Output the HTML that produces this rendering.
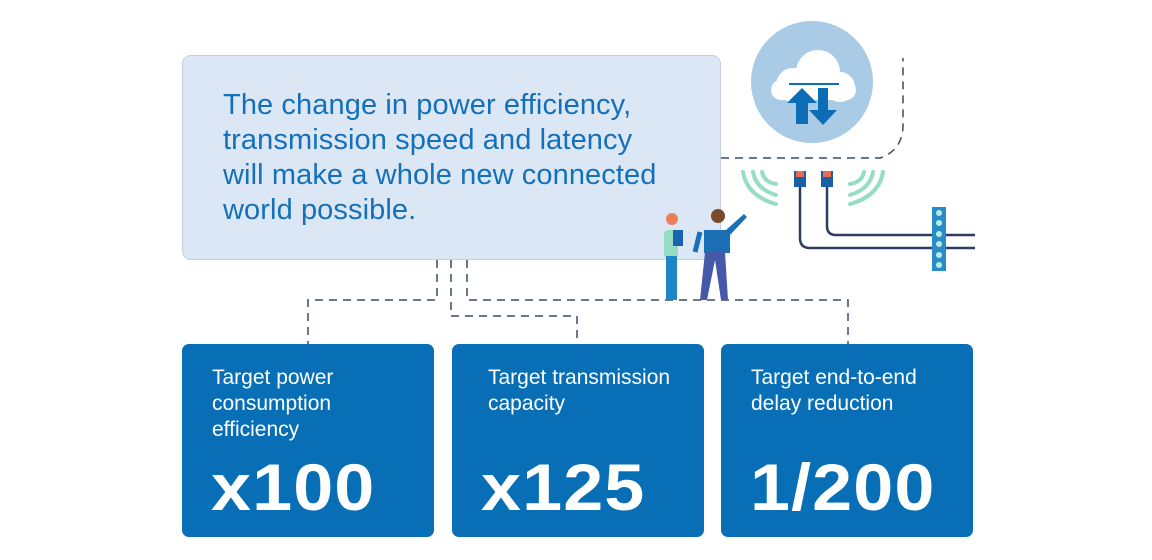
<!DOCTYPE html>
<html><head><style>
body{margin:0;width:1152px;height:560px;background:#fff;position:relative;overflow:hidden;font-family:"Liberation Sans",sans-serif}
.top{position:absolute;left:182px;top:55px;width:537px;height:203px;background:#dce7f6;border:1px solid #c4cfdd;border-radius:9px}
.top p{margin:0;position:absolute;left:40px;top:32px;font-size:29px;line-height:35px;color:#1570b8;white-space:nowrap;letter-spacing:0.1px}
.b{position:absolute;top:344px;width:252px;height:193px;background:#086fb7;border-radius:7px;color:#fff}
.b .l{position:absolute;left:30px;top:21px;font-size:21px;line-height:26px}
.b .n{position:absolute;left:29px;top:105px;font-size:66px;font-weight:bold;letter-spacing:1px;transform:scaleX(1.09);transform-origin:left top;white-space:nowrap}
svg{position:absolute;left:0;top:0}
</style></head><body>
<div class="top"><p>The change in power efficiency,<br>transmission speed and latency<br>will make a whole new connected<br>world possible.</p></div>
<svg width="1152" height="560">
<g fill="none" stroke="#3b4a66" stroke-width="1.5" stroke-dasharray="8,6">
<path d="M437 260V300H308V344"/>
<path d="M451 260V316H577V344"/>
<path d="M467 260V300H848V344"/>
<path d="M721 158H880Q903 150 903 125V58"/>
</g>
<circle cx="812" cy="82" r="61" fill="#a9cbe5"/>
<g fill="#fff"><circle cx="793" cy="85" r="17"/><circle cx="818" cy="72" r="22"/><circle cx="840" cy="87" r="15"/><rect x="771" y="80" width="85" height="20" rx="10"/></g>
<path d="M789 84h50" stroke="#0b6db5" stroke-width="2"/>
<path d="M802 88l-15 15h9v21h12v-21h9z" fill="#0b6db5"/>
<path d="M818 88v22h-9l14 15 14-15h-9v-22z" fill="#0b6db5"/>
<g fill="none" stroke="#97ddc3" stroke-width="4" stroke-linecap="round">
<path d="M743 172q4 24 33 32"/><path d="M753 172q3 17 23 23"/><path d="M762 172q2 10 14 12"/>
<path d="M883 172q-4 24 -33 32"/><path d="M873 172q-3 17 -23 23"/><path d="M864 172q-2 10 -14 12"/>
</g>
<g fill="none" stroke="#2e3c60" stroke-width="2.5">
<path d="M800 185V238q0 10 10 10H975"/><path d="M827 185V226q0 9 9 9H975"/>
</g>
<rect x="794" y="171" width="12" height="16" fill="#1a5fa5"/><rect x="796" y="171" width="8" height="6" fill="#e86d50"/>
<rect x="821" y="171" width="12" height="16" fill="#1a5fa5"/><rect x="823" y="171" width="8" height="6" fill="#e86d50"/>
<rect x="932" y="207" width="14" height="64" fill="#2a8bc9"/>
<g fill="#b6ecd8"><circle cx="939" cy="213" r="3"/><circle cx="939" cy="223" r="3"/><circle cx="939" cy="234" r="3"/><circle cx="939" cy="244" r="3"/><circle cx="939" cy="255" r="3"/><circle cx="939" cy="265" r="3"/></g>
<circle cx="672" cy="219" r="6" fill="#e9805b"/>
<rect x="664" y="230" width="14" height="28" rx="4" fill="#95dec4"/>
<rect x="666" y="256" width="11" height="44" fill="#1d86c6"/>
<rect x="673" y="230" width="10" height="16" fill="#1a63ad"/>
<circle cx="718" cy="216" r="7" fill="#7b4a2a"/>
<path d="M704 230h22l18-16 3 3-17 18v18h-26z" fill="#1a6fb5"/>
<path d="M700 232l-5 20" stroke="#1a6fb5" stroke-width="5"/>
<path d="M705 252h20l3 48h-7l-6-40-8 40h-7z" fill="#4658a8"/>
</svg>
<div class="b" style="left:182px"><div class="l">Target power<br>consumption<br>efficiency</div><div class="n">x100</div></div>
<div class="b" style="left:452px"><div class="l" style="left:36px">Target transmission<br>capacity</div><div class="n">x125</div></div>
<div class="b" style="left:721px"><div class="l">Target end-to-end<br>delay reduction</div><div class="n">1/200</div></div>
</body></html>
